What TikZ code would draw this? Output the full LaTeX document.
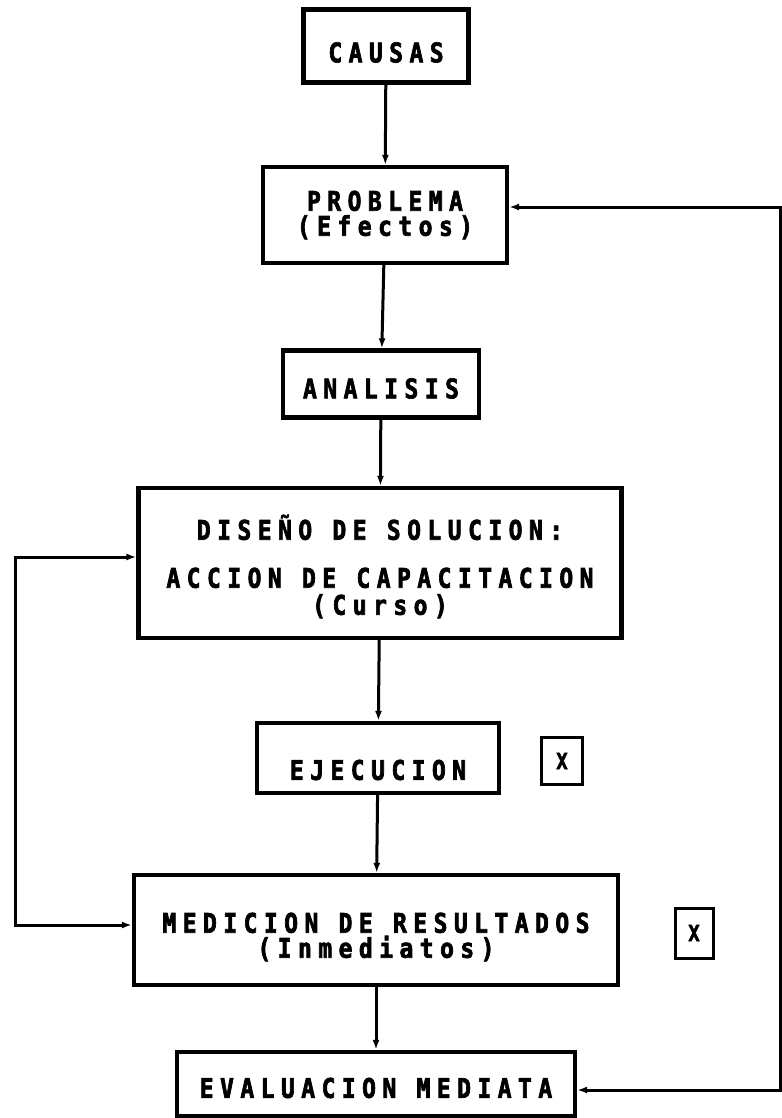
\documentclass[tikz,border=0pt]{standalone}
\usepackage{fontspec}
\usepackage{xcolor}
\usetikzlibrary{arrows.meta}
\newfontfamily\typefont[FakeStretch=0.85,LetterSpace=24,BoldFeatures={FakeBold=2.5}]{DejaVu Sans Mono}

\begin{document}
\begin{tikzpicture}[x=1pt,y=-1pt,
  caja/.style={draw=lineColor,line width=4.2pt,align=center,inner sep=0pt,
    font={\typefont\bfseries\fontsize{27}{25}\selectfont}},
  marca/.style={draw=lineColor,line width=3pt,inner sep=0pt,
    font={\typefont\bfseries\fontsize{22}{22}\selectfont}},
  flecha/.style={draw=lineColor,line width=3pt,-{Latex[length=10pt,width=7pt]}},
  doble/.style={draw=lineColor,line width=3pt,{Latex[length=10pt,width=7pt]}-{Latex[length=10pt,width=7pt]}}]
\definecolor{lineColor}{RGB}{0,0,0}
\useasboundingbox (0,0) rectangle (781,1118);
\node[caja,minimum width=165pt,minimum height=73pt,text height=33pt] (causas) at (386,46) {CAUSAS};
\node[caja,minimum width=244pt,minimum height=96pt] (problema) at (385,215) {PROBLEMA\\(Efectos)};
\node[caja,minimum width=196pt,minimum height=67pt,text height=29pt] (analisis) at (381,384) {ANALISIS};
\node[caja,minimum width=483pt,minimum height=150pt,text height=107pt] (diseno) at (380,563) {DISEÑO DE SOLUCION:\\[23pt]ACCION DE CAPACITACION\\[2pt](Curso)};
\node[caja,minimum width=242pt,minimum height=70pt,text height=44pt] (ejecucion) at (378,758) {EJECUCION};
\node[marca,minimum width=41pt,minimum height=47pt] (marcaUno) at (562,761) {X};
\node[caja,minimum width=484pt,minimum height=110pt,text height=59pt] (medicion) at (376,930) {MEDICION DE RESULTADOS\\(Inmediatos)};
\node[marca,minimum width=38pt,minimum height=50pt] (marcaDos) at (694,933) {X};
\node[caja,minimum width=398pt,minimum height=64pt,text height=28pt] (evaluacion) at (376,1084) {EVALUACION MEDIATA};
\draw[flecha] (causas) -- (problema);
\draw[flecha] (problema) -- (analisis);
\draw[flecha] (analisis) -- (diseno);
\draw[flecha] (diseno) -- (ejecucion);
\draw[flecha] (ejecucion) -- (medicion);
\draw[flecha] (medicion) -- (evaluacion);
\coordinate (retornoBajo) at (780,1090);
\coordinate (retornoAlto) at (780,207);
\draw[doble] (retornoBajo -| evaluacion.east) -- (retornoBajo) -- (retornoAlto) -- (retornoAlto -| problema.east);
\coordinate (lazoAlto) at (15,557);
\coordinate (lazoBajo) at (15,925);
\draw[doble] (lazoAlto -| diseno.west) -- (lazoAlto) -- (lazoBajo) -- (lazoBajo -| medicion.west);
\end{tikzpicture}
\end{document}
